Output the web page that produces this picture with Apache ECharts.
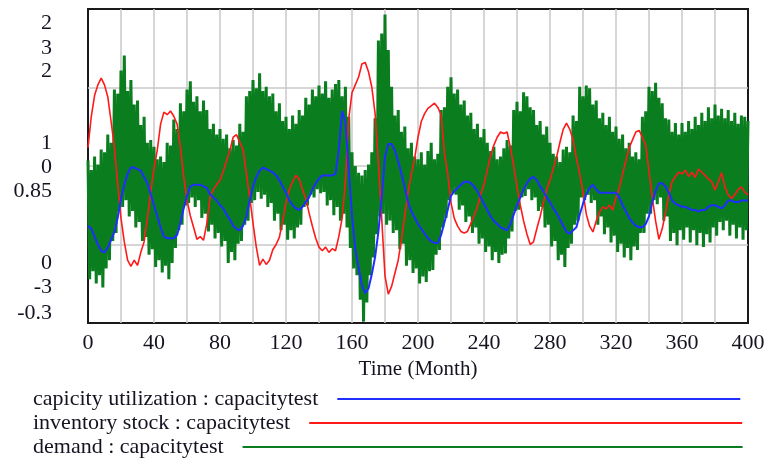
<!DOCTYPE html>
<html><head><meta charset="utf-8">
<script src="https://cdn.jsdelivr.net/npm/echarts@6/dist/echarts.min.js"></script>
<style>html,body{margin:0;padding:0;background:#fff}#c{width:769px;height:463px}</style>
</head><body><div id="c"></div>
<script>
const seriesNames = ['capicity utilization : capacitytest', 'inventory stock : capacitytest', 'demand : capacitytest'];
const xTickLabels = [0, 40, 80, 120, 160, 200, 240, 280, 320, 360, 400];
const capTickLabels = ['0', '1', '2'];
const invTickLabels = ['-3', '0', '3'];
const demTickLabels = ['-0.3', '0.85', '2'];

// capacity utilization, months 0..400 step 2
const capUtil = [
0.62,0.60,0.55,0.50,0.46,0.45,0.48,0.53,0.58,0.67,
0.79,0.88,0.95,0.99,0.99,0.98,0.97,0.93,0.89,0.82,
0.75,0.68,0.61,0.55,0.54,0.54,0.54,0.56,0.64,0.73,
0.81,0.87,0.88,0.88,0.88,0.87,0.86,0.82,0.80,0.78,
0.75,0.73,0.69,0.66,0.62,0.60,0.59,0.62,0.68,0.78,
0.87,0.93,0.97,0.99,0.98,0.97,0.96,0.94,0.91,0.87,
0.83,0.78,0.75,0.73,0.72,0.74,0.77,0.80,0.85,0.89,
0.92,0.94,0.94,0.94,0.94,0.95,1.10,1.35,1.28,0.98,
0.68,0.47,0.35,0.24,0.19,0.22,0.31,0.42,0.58,0.80,
1.06,1.14,1.14,1.10,1.03,0.95,0.86,0.77,0.71,0.67,
0.63,0.60,0.57,0.54,0.52,0.51,0.51,0.56,0.64,0.72,
0.81,0.84,0.86,0.88,0.90,0.90,0.89,0.87,0.84,0.80,
0.76,0.72,0.68,0.65,0.63,0.61,0.60,0.59,0.63,0.69,
0.75,0.80,0.85,0.89,0.92,0.93,0.91,0.87,0.84,0.80,
0.77,0.73,0.70,0.66,0.62,0.58,0.57,0.59,0.61,0.69,
0.76,0.82,0.86,0.88,0.85,0.83,0.83,0.83,0.83,0.83,
0.83,0.80,0.75,0.71,0.67,0.64,0.62,0.61,0.61,0.63,
0.68,0.77,0.84,0.89,0.89,0.87,0.83,0.78,0.76,0.75,
0.74,0.74,0.73,0.72,0.72,0.71,0.72,0.72,0.74,0.75,
0.75,0.74,0.73,0.75,0.78,0.78,0.77,0.77,0.78,0.78,
0.78];

// inventory stock, months 0..400 step 2
const inventory = [
0.35,0.95,1.35,1.55,1.68,1.55,1.32,0.85,0.35,-0.35,
-1.00,-1.45,-1.80,-1.92,-1.80,-1.90,-1.65,-1.45,-1.00,-0.50,
-0.05,0.31,0.80,1.03,0.98,1.05,0.95,0.80,0.36,-0.20,
-0.65,-0.95,-1.17,-1.40,-1.35,-1.42,-1.10,-0.59,-0.45,-0.35,
-0.27,-0.10,0.10,0.30,0.55,0.60,0.45,0.31,-0.15,-0.60,
-1.09,-1.55,-1.90,-1.78,-1.88,-1.80,-1.60,-1.50,-1.36,-1.05,
-0.70,-0.45,-0.30,-0.18,-0.25,-0.45,-0.62,-0.90,-1.15,-1.38,
-1.55,-1.62,-1.55,-1.65,-1.58,-1.62,-1.35,-1.00,-0.30,0.90,
1.40,1.55,1.70,1.95,1.98,1.80,1.51,1.00,0.05,-1.00,
-2.10,-2.45,-2.30,-2.05,-1.80,-1.40,-0.95,-0.50,-0.15,0.15,
0.55,0.85,1.00,1.10,1.15,1.20,1.12,0.98,0.25,-0.15,
-0.70,-1.00,-1.15,-1.25,-1.28,-1.25,-1.10,-0.95,-0.78,-0.55,
-0.35,-0.08,0.20,0.40,0.55,0.65,0.62,0.65,0.35,0.00,
-0.40,-0.75,-1.05,-1.30,-1.50,-1.45,-1.20,-0.97,-0.70,-0.45,
-0.27,-0.05,0.17,0.45,0.70,0.82,0.70,0.50,0.15,-0.15,
-0.50,-0.92,-1.15,-1.26,-1.05,-0.88,-0.78,-0.82,-0.75,-0.84,
-0.60,-0.42,-0.15,0.10,0.35,0.50,0.65,0.68,0.55,0.40,
-0.10,-0.60,-1.05,-1.40,-1.20,-0.90,-0.55,-0.30,-0.20,-0.12,
-0.15,-0.08,-0.20,-0.12,-0.22,-0.06,-0.12,-0.18,-0.25,-0.30,
-0.46,-0.30,-0.13,-0.40,-0.55,-0.62,-0.55,-0.45,-0.40,-0.50,
-0.55];

// demand, readings at even months 0..400
const demandHigh = [
0.89,0.82,0.92,0.86,0.97,0.95,1.08,1.02,1.41,1.38,
1.55,1.66,1.40,1.48,1.30,1.33,1.15,1.21,1.02,1.04,
0.99,0.90,0.92,0.88,1.02,1.00,1.19,1.12,1.31,1.25,
1.41,1.47,1.32,1.36,1.25,1.33,1.26,1.12,1.16,1.08,
1.12,1.05,1.08,0.98,1.04,1.00,1.16,1.10,1.36,1.40,
1.48,1.42,1.53,1.40,1.43,1.36,1.38,1.25,1.31,1.18,
1.21,1.12,1.22,1.16,1.26,1.22,1.35,1.30,1.41,1.36,
1.44,1.38,1.47,1.35,1.41,1.45,1.48,1.36,1.43,1.21,
0.95,0.85,0.80,0.78,0.82,0.86,0.95,1.20,1.77,1.82,
1.96,1.70,1.43,1.22,1.26,1.10,1.14,0.98,1.02,0.92,
0.90,0.95,0.86,0.96,1.02,0.90,0.94,1.26,1.28,1.43,
1.50,1.38,1.41,1.30,1.33,1.22,1.24,1.12,1.16,1.06,
1.12,1.02,0.96,0.99,0.90,0.92,0.98,1.04,1.00,1.26,
1.32,1.25,1.39,1.36,1.28,1.26,1.15,1.18,1.08,1.14,
1.02,0.94,0.92,0.88,0.97,0.99,0.95,1.22,1.18,1.43,
1.36,1.44,1.42,1.30,1.33,1.20,1.24,1.15,1.21,1.10,
1.14,1.05,1.08,0.98,1.02,0.92,0.95,0.90,1.21,1.25,
1.43,1.40,1.46,1.35,1.31,1.20,1.19,1.10,1.165,1.08,
1.165,1.10,1.18,1.12,1.21,1.15,1.24,1.18,1.28,1.20,
1.30,1.22,1.27,1.20,1.26,1.18,1.24,1.16,1.22,1.21,
1.18];

// demand, readings at odd months 1..399
const demandLow = [
0.02,0.08,-0.01,0.05,-0.04,0.10,0.16,0.30,0.36,0.52,
0.55,0.60,0.48,0.52,0.40,0.44,0.30,0.33,0.20,0.24,
0.11,0.16,0.07,0.12,0.02,0.14,0.25,0.38,0.42,0.56,
0.58,0.62,0.55,0.60,0.47,0.50,0.37,0.42,0.32,0.36,
0.26,0.30,0.14,0.22,0.16,0.28,0.30,0.42,0.45,0.58,
0.60,0.66,0.61,0.64,0.55,0.58,0.45,0.50,0.38,0.42,
0.31,0.38,0.32,0.40,0.42,0.55,0.56,0.64,0.62,0.68,
0.65,0.66,0.56,0.60,0.49,0.55,0.45,0.50,0.40,0.25,
0.10,0.05,-0.13,-0.29,-0.15,0.05,0.18,0.35,0.48,0.50,
0.42,0.45,0.36,0.38,0.24,0.28,0.12,0.16,0.066,0.10,
-0.01,0.04,0.00,0.08,0.088,0.20,0.235,0.40,0.47,0.60,
0.65,0.64,0.53,0.56,0.44,0.48,0.36,0.40,0.28,0.32,
0.22,0.26,0.16,0.22,0.14,0.20,0.21,0.32,0.37,0.52,
0.53,0.62,0.63,0.68,0.60,0.62,0.52,0.55,0.40,0.42,
0.26,0.30,0.16,0.20,0.11,0.25,0.28,0.42,0.45,0.62,
0.60,0.64,0.58,0.60,0.42,0.48,0.35,0.40,0.29,0.34,
0.22,0.28,0.18,0.25,0.16,0.26,0.235,0.36,0.36,0.50,
0.50,0.60,0.57,0.62,0.45,0.48,0.30,0.36,0.27,0.38,
0.31,0.40,0.29,0.38,0.27,0.36,0.257,0.35,0.29,0.40,
0.34,0.44,0.38,0.45,0.34,0.42,0.32,0.40,0.31,0.38];

const capData = capUtil.map((v, i) => [i * 2, v]);
const invData = inventory.map((v, i) => [i * 2, v]);
const demData = [];
for (let m = 0; m <= 400; m++) {
  demData.push([m, m % 2 === 0 ? demandHigh[m / 2] : demandLow[(m - 1) / 2]]);
}

const FONT = 'Liberation Serif';
const TXT = '#141420';

function yLabelFormatter(min, max, labels) {
  const mid = (min + max) / 2;
  return function (v) {
    if (Math.abs(v - max) < 1e-6) return '{t|' + labels[2] + '}';
    if (Math.abs(v - mid) < 1e-6) return '{m|' + labels[1] + '}';
    if (Math.abs(v - min) < 1e-6) return '{b|' + labels[0] + '}';
    return '';
  };
}
function rs(pad) { return { fontFamily: FONT, fontSize: 22, color: TXT, padding: pad }; }

function yAxis(min, max, interval, labels, rich, grid) {
  return {
    type: 'value', position: 'left', offset: 0, min: min, max: max, interval: interval,
    axisLine: { show: false }, axisTick: { show: false },
    splitLine: { show: grid, showMinLine: false, showMaxLine: false, lineStyle: { color: '#c8c8c8', width: 1.5 } },
    axisLabel: { margin: 36, formatter: yLabelFormatter(min, max, labels), fontFamily: FONT, fontSize: 22, color: TXT, rich: rich }
  };
}

function legendFor(name, top, width) {
  return {
    data: [name], left: 33, top: top, orient: 'horizontal', align: 'right', padding: 0,
    icon: 'rect', itemWidth: width, itemHeight: 2, selectedMode: false,
    textStyle: { fontFamily: FONT, fontSize: 22, color: TXT, padding: [0, 14, 0, 0] }
  };
}

const chart = echarts.init(document.getElementById('c'), null, { renderer: 'canvas' });
chart.setOption({
  animation: false,
  backgroundColor: '#fff',
  grid: { left: 88, right: 21, top: 9, bottom: 140, show: true, borderColor: '#1a1a1a', borderWidth: 2, backgroundColor: 'transparent' },
  xAxis: {
    type: 'value', min: 0, max: 400, interval: 20,
    axisLine: { show: false }, axisTick: { show: false },
    splitLine: { show: true, showMinLine: false, showMaxLine: false, lineStyle: { color: '#c8c8c8', width: 1.5 } },
    axisLabel: { margin: 9, fontFamily: FONT, fontSize: 22, color: TXT,
      formatter: v => (xTickLabels.indexOf(v) >= 0 ? String(v) : '') },
    name: 'Time (Month)', nameLocation: 'middle', nameGap: 33,
    nameTextStyle: { fontFamily: FONT, fontSize: 21, color: TXT }
  },
  yAxis: [
    yAxis(0, 2, 0.5, capTickLabels, { t: rs([28, 0, 0, 0]), m: rs([0, 0, 46, 0]), b: rs([0, 0, 120, 0]) }, true),
    yAxis(-3, 3, 3, invTickLabels, { t: rs([78, 0, 0, 0]), m: rs([2, 0, 0, 0]), b: rs([0, 0, 72, 0]) }, false),
    yAxis(-0.3, 2, 1.15, demTickLabels, { t: rs([124, 0, 0, 0]), m: rs([50, 0, 0, 0]), b: rs([0, 0, 20, 0]) }, false)
  ],
  legend: [
    legendFor(seriesNames[0], 388, 403),
    legendFor(seriesNames[1], 412, 433),
    legendFor(seriesNames[2], 436, 500)
  ],
  series: [
    { name: seriesNames[2], type: 'line', yAxisIndex: 2, data: demData, showSymbol: false, symbol: 'none',
      color: '#0a7d1e', lineStyle: { color: '#0a7d1e', width: 3, join: 'miter', miterLimit: 3 }, sampling: null, z: 2 },
    { name: seriesNames[1], type: 'line', yAxisIndex: 1, data: invData, showSymbol: false, symbol: 'none',
      color: '#ff1a1a', lineStyle: { color: '#ff1a1a', width: 1.6 }, z: 3 },
    { name: seriesNames[0], type: 'line', yAxisIndex: 0, data: capData, showSymbol: false, symbol: 'none',
      color: '#1f2fff', lineStyle: { color: '#1f2fff', width: 2 }, z: 4 }
  ]
});
</script>
</body></html>
